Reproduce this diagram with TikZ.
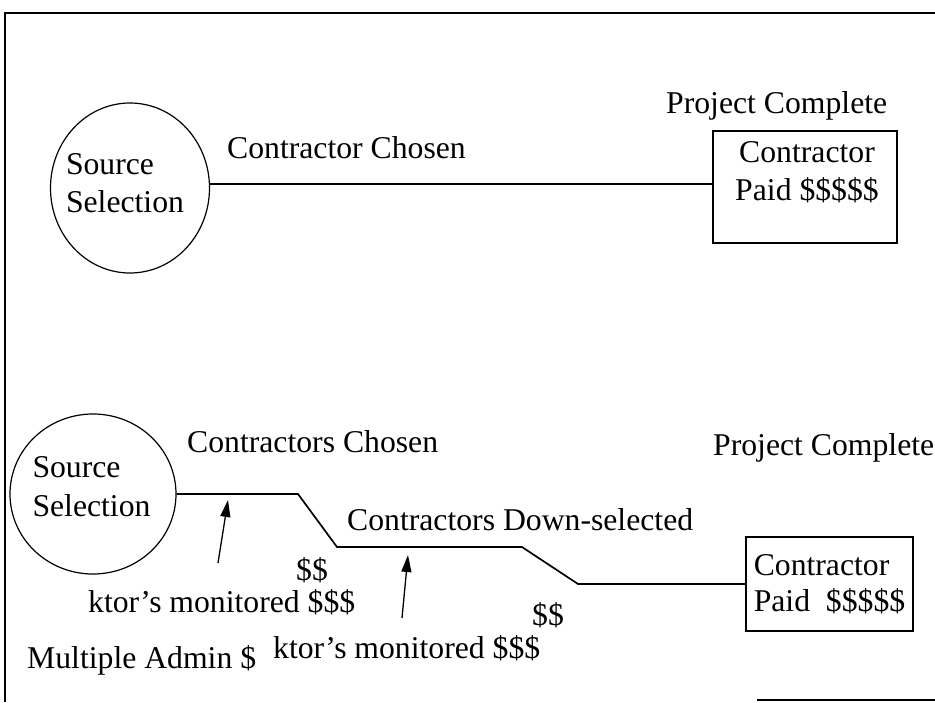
\documentclass[tikz,border=0pt]{standalone}
\usepackage{fontspec}
\setmainfont{Liberation Serif}
\usetikzlibrary{shapes.geometric,arrows.meta}
\begin{document}
\begin{tikzpicture}[x=1pt,y=-1pt,
  txt/.style={font=\fontsize{31.7}{38}\selectfont, inner sep=0pt},
  lbl/.style={txt, anchor=base west},
  source/.style={draw, ellipse, line width=1.2pt, inner sep=0pt},
  paybox/.style={draw, rectangle, line width=1.4pt, inner sep=0pt},
  flow/.style={line width=1.7pt},
  pointer/.style={line width=1.3pt, -{Triangle[length=17pt,width=10pt]}},
  frame/.style={line width=1.4pt}]
\useasboundingbox (0,0) rectangle (935,702);

% page frame
\draw[frame] (935,13) -- (5,13) -- (5,702);
\draw[frame] (757,700) -- (935,700);

% ---- single contractor: one straight path ----
\node[source, minimum width=159pt, minimum height=170pt] (ss1) at (130,188) {};
\node[txt, align=left, xshift=-5pt, yshift=5pt] at (ss1.center) {Source\\Selection};

\node[paybox, minimum width=184pt, minimum height=112pt] (box1) at (805,187) {};
\node[txt, align=center, xshift=2pt, yshift=15pt] at (box1.center) {Contractor\\Paid \$\$\$\$\$};

\node[lbl] at (666,113) {Project Complete};
\node[lbl] at (227,158) {Contractor Chosen};

\draw[flow] (ss1.3.6) -- (ss1.3.6 -| box1.west);

% ---- several contractors: stepped path ----
\node[source, minimum width=166pt, minimum height=160pt] (ss2) at (93,494) {};
\node[txt, align=left, xshift=-1.5pt, yshift=7.5pt] at (ss2.center) {Source\\[1pt]Selection};

\node[paybox, minimum width=167pt, minimum height=94pt] (box2) at (829.5,584) {};
\node[txt, align=left] at (box2.center) {Contractor\\[-2pt]Paid\ \ \$\$\$\$\$};

\coordinate (b1) at (298,494);
\coordinate (b2) at (337,547);
\coordinate (b3) at (522,547);
\coordinate (b4) at (578,584);
\draw[flow] (ss2.east) -- (b1) -- (b2) -- (b3) -- (b4) -- (box2.west);

\node[lbl] at (713,455) {Project Complete};
\node[lbl] at (187,452) {Contractors Chosen};
\node[lbl] at (347,530) {Contractors Down-selected};

\coordinate (t1) at (218,563);
\coordinate (h1) at (228,500);
\coordinate (t2) at (402,618);
\coordinate (h2) at (408,555);
\draw[pointer] (t1) -- (h1);
\draw[pointer] (t2) -- (h2);

\node[lbl] at (296,580) {\$\$};
\node[lbl] at (88,612) {ktor’s monitored \$\$\$};
\node[lbl] at (532,625) {\$\$};
\node[lbl] at (273,658) {ktor’s monitored \$\$\$};
\node[lbl] at (27,668) {Multiple Admin \$};
\end{tikzpicture}
\end{document}
